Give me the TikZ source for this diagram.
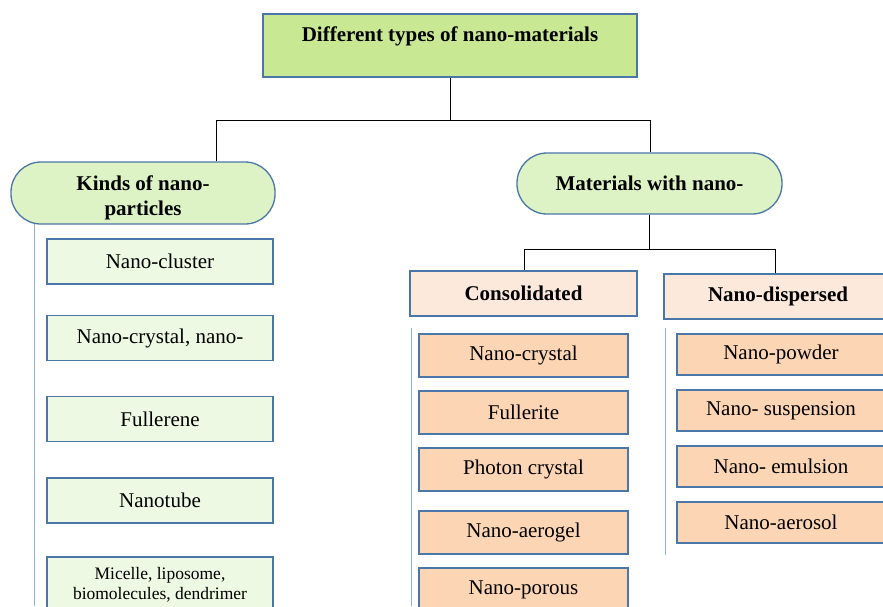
\documentclass[tikz,border=0pt]{standalone}
\usepackage{fontspec}
\setmainfont{Liberation Serif}
\definecolor{edgeblue}{HTML}{4A76A8}
\definecolor{railblue}{HTML}{8FB0D8}
\definecolor{topgreen}{HTML}{C9E894}
\definecolor{pillgreen}{HTML}{DDF2C5}
\definecolor{itemgreen}{HTML}{EEF9E3}
\definecolor{headpeach}{HTML}{FDE9DC}
\definecolor{itempeach}{HTML}{FCD5B5}
\begin{document}
\begin{tikzpicture}[x=1pt,y=-1pt,
		txt/.style={font=\fontsize{21}{25}\selectfont},
		bold/.style={font=\fontsize{21}{25}\selectfont\bfseries},
		pill/.style={draw=edgeblue,line width=1.3pt,fill=pillgreen,rounded corners=30pt,minimum width=264pt,minimum height=62pt,inner sep=0pt,align=center,bold},
		kindbox/.style={draw=edgeblue,line width=1.3pt,fill=itemgreen,minimum width=226pt,minimum height=45pt,inner sep=0pt,align=center,txt},
		headbox/.style={draw=edgeblue,line width=1.3pt,fill=headpeach,minimum width=227pt,minimum height=45pt,inner sep=0pt,bold},
		itembox/.style={draw=edgeblue,line width=1.3pt,fill=itempeach,minimum width=209pt,minimum height=43pt,inner sep=0pt,txt},
		link/.style={draw=black,line width=0.8pt},
		rail/.style={draw=railblue,line width=1pt}]
			\clip (0,0) rectangle (883,606);
			% top box, title sits near its upper edge
			\node[draw=edgeblue,line width=1.3pt,fill=topgreen,minimum width=374pt,minimum height=63pt,
				label={[bold,anchor=north,yshift=-10pt]north:Different types of nano-materials}] (types) at (450,45.5) {};
			% two-line title sits a bit low in its pill
			\node[pill,label={[bold,align=center,yshift=-5pt]center:Kinds of nano-\\particles}] (kinds) at (143,193) {};
			\node[pill,minimum width=265pt,minimum height=61pt] (matnano) at (649.5,183.5) {Materials with nano-};
			\coordinate (lhub) at (216,120);
			\coordinate (rhub) at (650,120);
			\draw[link] (types.south) -- (types.south |- lhub);
			\draw[link] (kinds.north -| lhub) |- (rhub) -- (matnano.north -| rhub);
			% left column
			\coordinate (krail) at (34,224);
			\draw[rail] (krail) -- (34,606);
			\node[kindbox] (cluster) at (160,261.5) {Nano-cluster};
			\node[kindbox] (ncrystal) at (160,338) {Nano-crystal, nano-};
			\node[kindbox] (fullerene) at (160,419) {Fullerene};
			\node[kindbox] (nanotube) at (160,500.5) {Nanotube};
			\node[kindbox,minimum height=56pt,font=\fontsize{17.5}{20}\selectfont] (micelle) at (160,585) {Micelle, liposome,\\biomolecules, dendrimer};
			% right branch
			\node[headbox] (cons) at (523.5,293.5) {Consolidated};
			\node[headbox,minimum width=228pt] (disp) at (778,296.5) {Nano-dispersed};
			\coordinate (chub) at (524,249);
			\coordinate (dhub) at (775,249);
			\draw[link] (matnano.south) -- (matnano.south |- chub);
			\draw[link] (cons.north -| chub) |- (dhub) -- (disp.north -| dhub);
			\coordinate (crail) at (411,328);
			\coordinate (drail) at (665,328);
			\draw[rail] (crail) -- (411,606);
			\draw[rail] (drail) -- (665,555);
			\node[itembox] (cnano) at (523.5,355.5) {Nano-crystal};
			\node[itembox] (fullerite) at (523.5,412.5) {Fullerite};
			\node[itembox] (photon) at (523.5,469.5) {Photon crystal};
			\node[itembox] (aerogel) at (523.5,532.5) {Nano-aerogel};
			\node[itembox] (porous) at (523.5,589.5) {Nano-porous};
			\node[itembox,minimum width=208pt,minimum height=41pt] (powder) at (781,354.5) {Nano-powder};
			\node[itembox,minimum width=208pt,minimum height=41pt] (suspension) at (781,410.5) {Nano- suspension};
			\node[itembox,minimum width=208pt,minimum height=41pt] (emulsion) at (781,466.5) {Nano- emulsion};
			\node[itembox,minimum width=208pt,minimum height=41pt] (aerosol) at (781,522.5) {Nano-aerosol};
		\end{tikzpicture}
\end{document}
